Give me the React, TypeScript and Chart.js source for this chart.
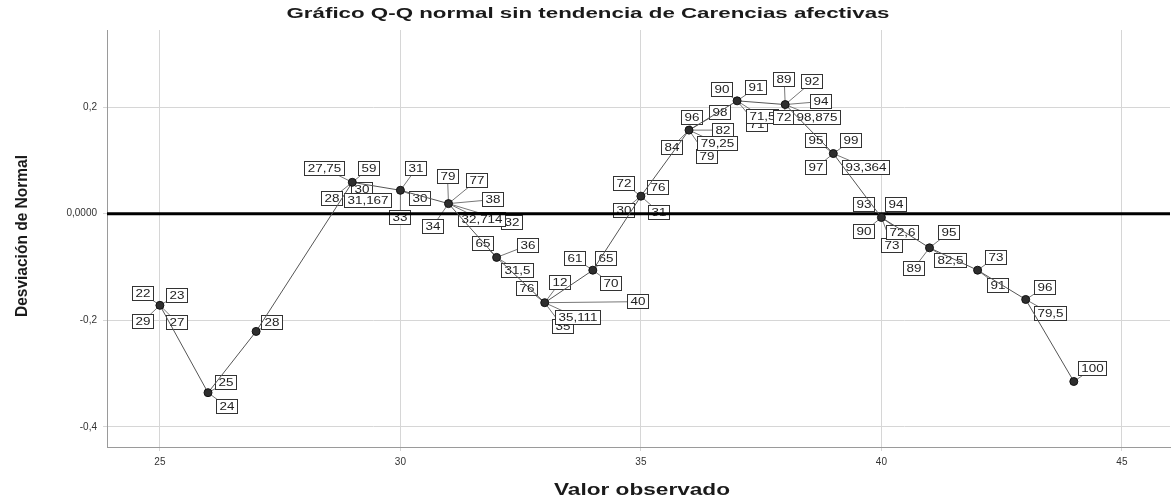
import { useEffect, useRef } from "react";
import { Chart, registerables } from "chart.js";

Chart.register(...registerables);

// ---- data ----
const observed = [25, 26, 27, 29, 30, 31, 32, 33, 34, 35, 36, 37, 38, 39, 40, 41, 42, 43, 44];
const deviation = [
  -0.172, -0.336, -0.221, 0.059, 0.044, 0.019, -0.082, -0.167, -0.106, 0.033,
  0.157, 0.212, 0.205, 0.113, -0.007, -0.064, -0.106, -0.161, -0.315,
];
const caseLabels: string[][] = [
  ["22", "23", "29", "27"],
  ["25", "24"],
  ["28"],
  ["30", "27,75", "59", "28", "31,167"],
  ["31", "30", "33"],
  ["32", "79", "77", "38", "34", "32,714"],
  ["65", "36", "31,5"],
  ["76", "12", "40", "35", "35,111"],
  ["61", "65", "70"],
  ["72", "76", "30", "31"],
  ["96", "84", "98", "82", "79", "79,25"],
  ["90", "91", "71", "71,5"],
  ["89", "92", "94", "72", "98,875"],
  ["95", "99", "97", "93,364"],
  ["93", "94", "90", "73", "72,6"],
  ["95", "89", "82,5"],
  ["73", "91"],
  ["96", "79,5"],
  ["100"],
];
const xTicks = [25, 30, 35, 40, 45];
const yTicks = [-0.4, -0.2, 0, 0.2];
const yTickLabels = ["-0,4", "-0,2", "0,0000", "0,2"];
const referenceValue = 0;
const chartTitle = "Gráfico Q-Q normal sin tendencia de Carencias afectivas";
const xTitle = "Valor observado";
const yTitle = "Desviación de Normal";

// ---- layout (label box offsets from their point, in px) ----
const labelOffsets: number[][][] = [
  [[-17, -12], [17, -10], [-17, 16], [17, 17]],
  [[18, -10], [19, 14]],
  [[16, -9]],
  [[10, 7], [-28, -14], [17, -14], [-20, 16], [16, 18]],
  [[16, -22], [20, 8], [0, 27]],
  [[63, 19], [-1, -27], [28, -23], [44, -4], [-16, 23], [33, 16]],
  [[-14, -14], [31, -12], [21, 13]],
  [[-18, -14], [15, -20], [93, -1], [18, 24], [33, 15]],
  [[-18, -12], [13, -12], [18, 13]],
  [[-17, -13], [17, -9], [-17, 14], [18, 16]],
  [[3, -13], [-17, 17], [31, -18], [34, 0], [18, 26], [28, 13]],
  [[-15, -11], [19, -13], [20, 24], [25, 16]],
  [[-1, -25], [27, -23], [36, -3], [-1, 13], [32, 13]],
  [[-17, -13], [18, -13], [-17, 14], [33, 14]],
  [[-17, -13], [15, -13], [-17, 14], [11, 28], [21, 15]],
  [[19, -15], [-16, 21], [21, 13]],
  [[18, -13], [20, 15]],
  [[19, -12], [25, 14]],
  [[19, -13]],
];

const FONT = "'Liberation Sans', Arial, sans-serif";
const X_MIN = 23.9;
const X_MAX = 46.0;
const Y_MIN = -0.438;
const Y_MAX = 0.345;

function drawFit(
  ctx: CanvasRenderingContext2D,
  text: string,
  cx: number,
  cy: number,
  font: string,
  targetW: number,
  rotate = 0,
  thick = 1
) {
  ctx.save();
  ctx.font = font;
  const w = ctx.measureText(text).width;
  ctx.translate(cx, cy);
  if (rotate) ctx.rotate(rotate);
  ctx.scale(targetW / w, thick);
  ctx.textAlign = "center";
  ctx.textBaseline = "middle";
  ctx.fillStyle = "#1a1a1a";
  ctx.fillText(text, 0, 0);
  ctx.restore();
}

export default function App() {
  const ref = useRef<HTMLCanvasElement>(null);

  useEffect(() => {
    const canvas = ref.current;
    if (!canvas) return;

    const labelPlugin = {
      id: "caseLabels",
      beforeDatasetsDraw(chart: any) {
        const ctx: CanvasRenderingContext2D = chart.ctx;
        const xs = chart.scales.x;
        const ys = chart.scales.y;
        const SX = 1.22;
        ctx.save();
        ctx.font = `11px ${FONT}`;
        observed.forEach((xv, i) => {
          const px = xs.getPixelForValue(xv);
          const py = ys.getPixelForValue(deviation[i]);
          const labels = caseLabels[i];
          const offs = labelOffsets[i];
          ctx.strokeStyle = "#777";
          ctx.lineWidth = 1;
          labels.forEach((_, j) => {
            ctx.beginPath();
            ctx.moveTo(px, py);
            ctx.lineTo(px + offs[j][0], py + offs[j][1]);
            ctx.stroke();
          });
          labels.forEach((t, j) => {
            const tw = ctx.measureText(t).width * SX;
            const w = Math.round(tw + 7);
            const h = 15;
            const cx = px + offs[j][0];
            const cy = py + offs[j][1];
            const bx = Math.round(cx - w / 2);
            const by = Math.round(cy - h / 2);
            ctx.fillStyle = "#ffffff";
            ctx.fillRect(bx, by, w, h);
            ctx.strokeStyle = "#333";
            ctx.lineWidth = 1;
            ctx.strokeRect(bx + 0.5, by + 0.5, w - 1, h - 1);
            ctx.save();
            ctx.translate(bx + w / 2, by + h / 2 + 0.5);
            ctx.scale(SX, 1);
            ctx.textAlign = "center";
            ctx.textBaseline = "middle";
            ctx.fillStyle = "#222";
            ctx.fillText(t, 0, 0);
            ctx.restore();
          });
        });
        ctx.restore();
      },
      afterDraw(chart: any) {
        const ctx: CanvasRenderingContext2D = chart.ctx;
        drawFit(ctx, chartTitle, 588, 14, `bold 15px ${FONT}`, 603);
        drawFit(ctx, xTitle, 642, 490, `bold 17px ${FONT}`, 176);
        drawFit(ctx, yTitle, 22, 236, `bold 15px ${FONT}`, 162, -Math.PI / 2, 1.15);
      },
    };

    const chart = new Chart(canvas, {
      type: "scatter",
      data: {
        datasets: [
          {
            data: observed.map((x, i) => ({ x, y: deviation[i] })),
            showLine: true,
            borderColor: "#555",
            borderWidth: 1,
            pointRadius: 4,
            pointBackgroundColor: "#2e2e2e",
            pointBorderColor: "#111",
            pointBorderWidth: 1,
            order: 0,
          },
          {
            data: [
              { x: X_MIN, y: referenceValue },
              { x: X_MAX, y: referenceValue },
            ],
            showLine: true,
            borderColor: "#000",
            borderWidth: 3,
            pointRadius: 0,
            order: 1,
          },
        ],
      },
      options: {
        responsive: false,
        animation: false,
        layout: { padding: { top: 30, right: 3, left: 0, bottom: 0 } },
        plugins: {
          legend: { display: false },
          tooltip: { enabled: false },
          title: { display: false },
        },
        scales: {
          x: {
            type: "linear",
            min: X_MIN,
            max: X_MAX,
            afterBuildTicks: (s: any) => {
              s.ticks = xTicks.map((v) => ({ value: v }));
            },
            afterFit: (s: any) => {
              s.height = 54;
            },
            ticks: {
              font: { size: 10, family: FONT },
              color: "#333",
              padding: 5,
              maxRotation: 0,
              callback: (v: any) => String(v),
            },
            grid: { color: "#d6d6d6", tickLength: 4, lineWidth: 1 },
            border: { color: "#9a9a9a", width: 1 },
          },
          y: {
            type: "linear",
            min: Y_MIN,
            max: Y_MAX,
            afterBuildTicks: (s: any) => {
              s.ticks = yTicks.map((v) => ({ value: v }));
            },
            afterFit: (s: any) => {
              s.width = 107;
            },
            ticks: {
              font: { size: 10, family: FONT },
              color: "#333",
              padding: 6,
              callback: (v: any) => {
                const idx = yTicks.findIndex((t) => Math.abs(t - Number(v)) < 1e-9);
                return idx >= 0 ? yTickLabels[idx] : "";
              },
            },
            grid: { color: "#d6d6d6", tickLength: 4, lineWidth: 1 },
            border: { color: "#9a9a9a", width: 1 },
          },
        },
      },
      plugins: [labelPlugin],
    } as any);

    return () => chart.destroy();
  }, []);

  return (
    <div style={{ position: "fixed", left: 0, top: 0, width: 1175, height: 501, background: "#fff" }}>
      <canvas ref={ref} width={1175} height={501} style={{ display: "block" }} />
    </div>
  );
}
